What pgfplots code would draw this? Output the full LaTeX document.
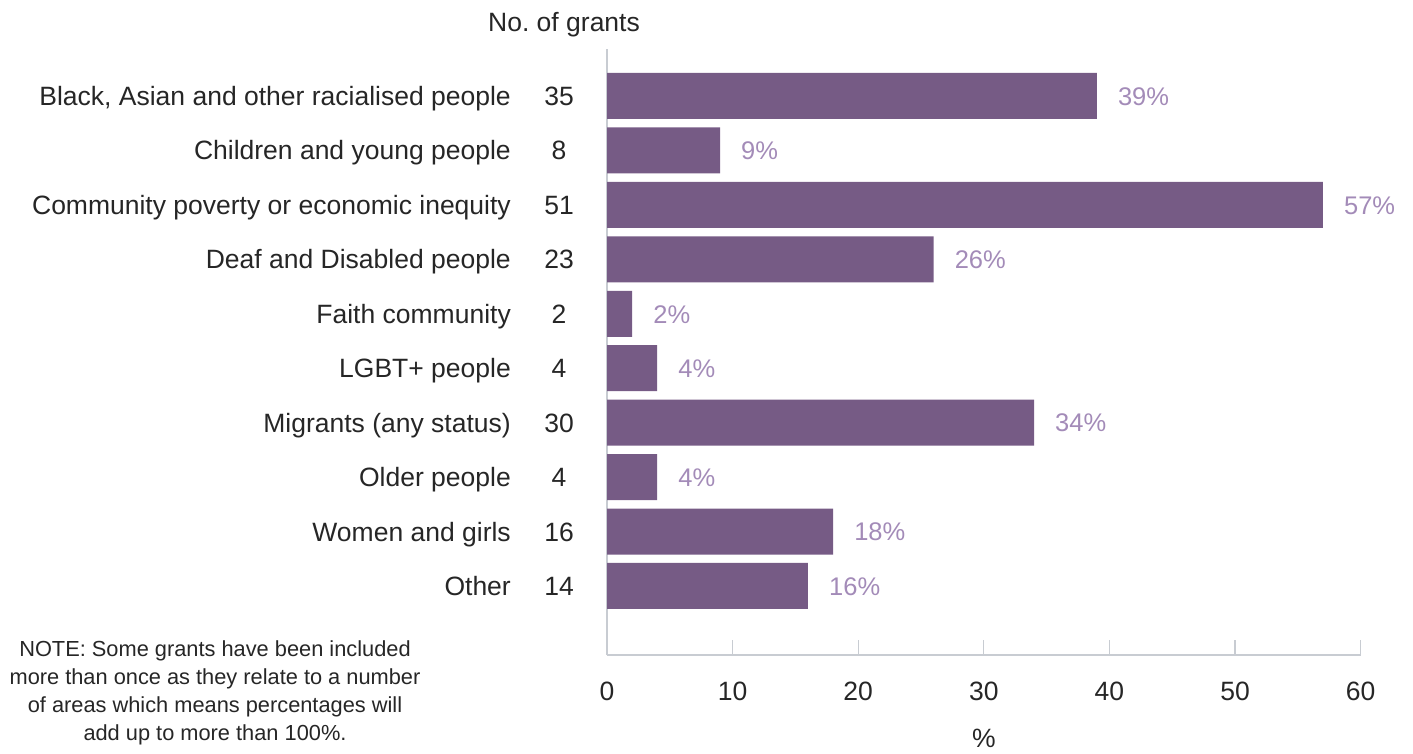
\documentclass[border=0pt]{standalone}
\usepackage{pgfplots}
\pgfplotsset{compat=1.18}
\usepackage{pgfplotstable}
\usepackage{fontspec}
\setmainfont{Liberation Sans}
\frenchspacing
\definecolor{barc}{HTML}{765B85}
\definecolor{lblc}{HTML}{A38BB8}
\definecolor{axc}{HTML}{C8CCD2}
\definecolor{txt}{HTML}{262626}

\pgfplotstableread{
y pct n
0 39 35
1 9 8
2 57 51
3 26 23
4 2 2
5 4 4
6 34 30
7 4 4
8 18 16
9 16 14
}\datatable

\newcommand{\bigf}{\fontsize{26.5}{31}\selectfont}

\begin{document}
\begin{tikzpicture}[x=1pt,y=1pt]
\useasboundingbox (0,0) rectangle (1413,753);
\begin{axis}[
  at={(607pt,98pt)}, anchor=south west,
  scale only axis, width=753.6pt, height=606pt,
  xmin=0, xmax=60, ymin=-0.863, ymax=10.268, y dir=reverse,
  axis x line*=bottom, axis y line*=left,
  axis line style={draw=axc, line width=1.2pt, -},
  xtick={0,10,...,60},
  xtick align=inside, major tick length=15pt,
  xtick style={draw=axc, line width=1.2pt},
  ytick={0,...,9}, ytick style={draw=none},
  yticklabels={{Black, Asian and other racialised people}, Children and young people, Community poverty or economic inequity, Deaf and Disabled people, Faith community, LGBT+ people, Migrants (any status), Older people, Women and girls, Other},
  yticklabel style={anchor=east, inner sep=0pt, xshift=-96pt, font=\bigf, text=txt, text height=19pt, text depth=0pt},
  xticklabel style={anchor=north, inner sep=0pt, yshift=-27pt, font=\bigf, text=txt},
  /pgf/number format/assume math mode=true,
  clip=false,
  xlabel={\%},
  xlabel style={at={(axis description cs:0.5,0)}, anchor=center, yshift=-83pt, font=\bigf, text=txt},
]
\addplot[xbar, bar width=0.845, fill=barc, draw=none,
  point meta=x,
  nodes near coords={\pgfmathprintnumber{\pgfplotspointmeta}\%},
  nodes near coords style={anchor=west, inner sep=0pt, xshift=21pt, text=lblc, font=\fontsize{25.5}{30}\selectfont, text height=18.5pt, text depth=0pt},
] table[x=pct, y=y]{\datatable};
\addplot[draw=none, mark=none,
  point meta=explicit symbolic,
  nodes near coords,
  nodes near coords style={anchor=center, inner sep=0pt, text=txt, font=\bigf, text height=19pt, text depth=0pt},
] table[x expr=-3.82, y=y, meta=n]{\datatable};
\end{axis}
\node[font=\bigf, text=txt, anchor=center] at (564,728) {No. of grants};
\node[font=\fontsize{21.8}{28}\selectfont, text=txt, align=center, anchor=center] at (215,60)
  {NOTE: Some grants have been included\\more than once as they relate to a number\\of areas which means percentages will\\add up to more than 100\%.};
\end{tikzpicture}
\end{document}
